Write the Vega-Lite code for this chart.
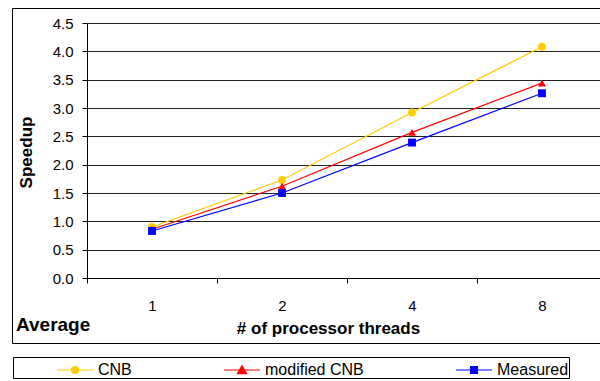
{
  "$schema": "https://vega.github.io/schema/vega-lite/v6.json",
  "width": 588,
  "height": 335,
  "autosize": {"type": "none"},
  "padding": {"left": 12, "top": 8, "right": 0, "bottom": 38},
  "background": "white",
  "title": {"text": "Average", "orient": "bottom", "anchor": "start", "frame": "group", "font": "Liberation Sans", "fontSize": 19, "fontWeight": "bold", "color": "black", "dx": 4, "offset": -63},
  "config": {
    "view": {"stroke": "black", "strokeWidth": 1},
    "font": "Liberation Sans",
    "legend": {
      "orient": "none", "legendX": 1, "legendY": 349, "direction": "horizontal",
      "strokeColor": "black", "padding": 0,
      "symbolSize": 576, "symbolStrokeWidth": 1.2, "symbolOffset": 6, "symbolOpacity": 1,
      "labelOffset": 10, "labelFont": "Liberation Sans", "labelFontSize": 16, "labelColor": "black",
      "columnPadding": 89, "titleOrient": "left", "titlePadding": 43, "titleFontSize": 16
    }
  },
  "data": {"values": [
    {"series": "CNB", "threads": "1", "speedup": 0.90},
    {"series": "CNB", "threads": "2", "speedup": 1.73},
    {"series": "CNB", "threads": "4", "speedup": 2.92},
    {"series": "CNB", "threads": "8", "speedup": 4.08},
    {"series": "modified CNB", "threads": "1", "speedup": 0.86},
    {"series": "modified CNB", "threads": "2", "speedup": 1.62},
    {"series": "modified CNB", "threads": "4", "speedup": 2.57},
    {"series": "modified CNB", "threads": "8", "speedup": 3.44},
    {"series": "Measured", "threads": "1", "speedup": 0.83},
    {"series": "Measured", "threads": "2", "speedup": 1.50},
    {"series": "Measured", "threads": "4", "speedup": 2.39},
    {"series": "Measured", "threads": "8", "speedup": 3.26}
  ]},
  "encoding": {
    "x": {
      "field": "threads", "type": "ordinal",
      "scale": {"type": "band", "domain": ["1", "2", "4", "8"], "range": [75, 595], "paddingInner": 0, "paddingOuter": 0},
      "axis": {
        "title": "# of processor threads", "titleFont": "Liberation Sans", "titleFontSize": 17, "titleFontWeight": "bold", "titleColor": "black",
        "titleX": 316, "titleY": 50, "titleBaseline": "middle", "titleAlign": "center",
        "labelAngle": 0, "labelFontSize": 15, "labelColor": "black", "labelPadding": 15, "labelBaseline": "top",
        "tickSize": 5, "tickColor": "black", "domainColor": "black", "tickBand": "extent", "grid": false, "offset": -65
      }
    },
    "y": {
      "field": "speedup", "type": "quantitative",
      "scale": {"domain": [0, 4.5], "range": [270, 15], "nice": false},
      "axis": {
        "title": "Speedup", "titleFont": "Liberation Sans", "titleFontSize": 17, "titleFontWeight": "bold", "titleColor": "black",
        "titleX": -61, "titleY": 144, "titleBaseline": "middle", "titleAlign": "center",
        "values": [0, 0.5, 1, 1.5, 2, 2.5, 3, 3.5, 4, 4.5], "format": ".1f",
        "labelFontSize": 15, "labelColor": "black", "labelPadding": 9,
        "tickSize": 5, "tickColor": "black", "domainColor": "black",
        "grid": true, "gridColor": "#222", "offset": -75
      }
    }
  },
  "layer": [
    {
      "mark": {"type": "line", "strokeWidth": 1.2},
      "encoding": {
        "color": {"field": "series", "type": "nominal", "scale": {"domain": ["CNB", "modified CNB", "Measured"], "range": ["#FFCC00", "#FF0000", "#0000FF"]}, "legend": null}
      }
    },
    {
      "mark": {"type": "point", "filled": true, "size": 62, "opacity": 1},
      "encoding": {
        "color": {"field": "series", "type": "nominal", "scale": {"domain": ["CNB", "modified CNB", "Measured"], "range": ["#FFCC00", "#FF0000", "#0000FF"]}, "legend": null},
        "shape": {"field": "series", "type": "nominal", "scale": {"domain": ["CNB", "modified CNB", "Measured"], "range": ["circle", "triangle-up", "square"]}, "legend": null}
      }
    },
    {
      "transform": [{"filter": "false"}],
      "mark": {"type": "point", "filled": true, "opacity": 1},
      "encoding": {
        "fill": {"field": "series", "type": "nominal", "title": "\u00a0", "scale": {"domain": ["CNB", "modified CNB", "Measured"], "range": ["#FFCC00", "#FF0000", "#0000FF"]}},
        "stroke": {"field": "series", "type": "nominal", "title": "\u00a0", "scale": {"domain": ["CNB", "modified CNB", "Measured"], "range": ["#FFCC00", "#FF0000", "#0000FF"]}},
        "shape": {"field": "series", "type": "nominal", "title": "\u00a0", "scale": {"domain": ["CNB", "modified CNB", "Measured"], "range": [
          "M-1.5,0H1.5M-0.29,0A0.29,0.29,0,1,0,0.29,0A0.29,0.29,0,1,0,-0.29,0Z",
          "M-1.5,0H1.5M0,-0.36L0.38,0.3L-0.38,0.3Z",
          "M-1.5,0H1.5M-0.29,-0.29H0.29V0.29H-0.29Z"
        ]}}
      }
    }
  ],
  "resolve": {"scale": {"shape": "independent", "fill": "independent", "stroke": "independent"}}
}
